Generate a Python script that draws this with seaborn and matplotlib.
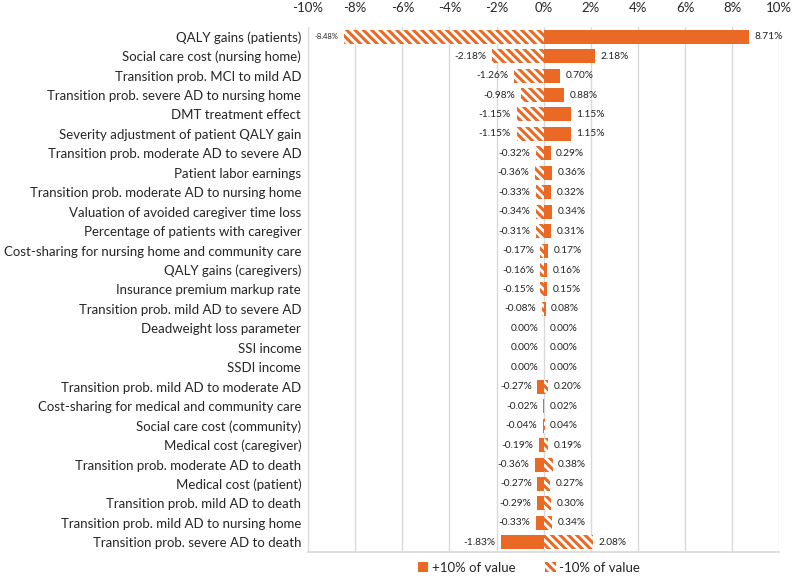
import pandas as pd
import numpy as np
import matplotlib
matplotlib.use('Agg')
import matplotlib.pyplot as plt
import seaborn as sns
from matplotlib.patches import Patch

# Tornado chart: change in outcome when each parameter is +/-10%
params = [
    "QALY gains (patients)",
    "Social care cost (nursing home)",
    "Transition prob. MCI to mild AD",
    "Transition prob. severe AD to nursing home",
    "DMT treatment effect",
    "Severity adjustment of patient QALY gain",
    "Transition prob. moderate AD to severe AD",
    "Patient labor earnings",
    "Transition prob. moderate AD to nursing home",
    "Valuation of avoided caregiver time loss",
    "Percentage of patients with caregiver",
    "Cost-sharing for nursing home and community care",
    "QALY gains (caregivers)",
    "Insurance premium markup rate",
    "Transition prob. mild AD to severe AD",
    "Deadweight loss parameter",
    "SSI income",
    "SSDI income",
    "Transition prob. mild AD to moderate AD",
    "Cost-sharing for medical and community care",
    "Social care cost (community)",
    "Medical cost (caregiver)",
    "Transition prob. moderate AD to death",
    "Medical cost (patient)",
    "Transition prob. mild AD to death",
    "Transition prob. mild AD to nursing home",
    "Transition prob. severe AD to death",
]
plus_10 = [8.71, 2.18, 0.70, 0.88, 1.15, 1.15, 0.29, 0.36, 0.32, 0.34, 0.31, 0.17, 0.16, 0.15, 0.08,
           0.00, 0.00, 0.00, -0.27, -0.02, -0.04, -0.19, -0.36, -0.27, -0.29, -0.33, -1.83]
minus_10 = [-8.48, -2.18, -1.26, -0.98, -1.15, -1.15, -0.32, -0.36, -0.33, -0.34, -0.31, -0.17, -0.16, -0.15, -0.08,
            0.00, 0.00, 0.00, 0.20, 0.02, 0.04, 0.19, 0.38, 0.27, 0.30, 0.34, 2.08]
series = ["+10% of value", "-10% of value"]
x_ticks = [-10, -8, -6, -4, -2, 0, 2, 4, 6, 8, 10]

ORANGE = '#EA6A25'
GRID = '#D9D9D9'

sns.set_theme(style="white")
plt.rcParams['font.family'] = ['Lato', 'DejaVu Sans']
plt.rcParams['hatch.linewidth'] = 2.2

df = pd.DataFrame({
    'param': params * 2,
    'value': plus_10 + minus_10,
    'scenario': [series[0]] * len(params) + [series[1]] * len(params),
})

fig = plt.figure(figsize=(7.92, 5.86), dpi=100)
ax = fig.add_axes([0.389, 0.058, 0.595, 0.896])

sns.barplot(data=df, x='value', y='param', hue='scenario', dodge=False, orient='h',
            palette={series[0]: ORANGE, series[1]: 'white'}, width=0.72, saturation=1,
            linewidth=0, ax=ax, legend=False)

# second series: hatched, no outline
for bar in ax.containers[1]:
    bar.set_facecolor('white')
    bar.set_edgecolor(ORANGE)
    bar.set_hatch('\\\\\\\\')
    bar.set_linewidth(0)

# value labels on both ends
for i, (p, m) in enumerate(zip(plus_10, minus_10)):
    lo, hi = min(p, m), max(p, m)
    fs = 5.5 if abs(lo) > 8 else 7.3
    ax.annotate(f"{lo:.2f}%", (min(lo, 0), i), xytext=(-4, 0), textcoords='offset points',
                ha='right', va='center', fontsize=fs, color='#222222')
    ax.annotate(f"{hi:.2f}%", (max(hi, 0), i), xytext=(4, 0), textcoords='offset points',
                ha='left', va='center', fontsize=7.3, color='#222222')

ax.set_xlim(-10, 10)
ax.set_xticks(x_ticks)
ax.set_xticklabels([f"{t}%" for t in x_ticks], fontsize=9.5)
ax.xaxis.tick_top()
ax.tick_params(axis='x', length=0, pad=9)
ax.tick_params(axis='y', length=0, pad=5, labelsize=9.5)
ax.set_xlabel("")
ax.set_ylabel("")
ax.xaxis.grid(True, color=GRID, linewidth=1)
ax.set_axisbelow(True)
for s in ['top', 'left', 'right']:
    ax.spines[s].set_visible(False)
ax.spines['bottom'].set_color(GRID)

handles = [Patch(facecolor=ORANGE, edgecolor=ORANGE, linewidth=0, label=series[0]),
           Patch(facecolor='white', edgecolor=ORANGE, hatch='\\\\\\\\', linewidth=0, label=series[1])]
fig.legend(handles=handles, loc='center', bbox_to_anchor=(0.668, 0.031), ncol=2, frameon=False,
           fontsize=9.5, handlelength=0.8, handleheight=0.8, handletextpad=0.3, columnspacing=2.2)

plt.savefig('out.png', dpi=100)
